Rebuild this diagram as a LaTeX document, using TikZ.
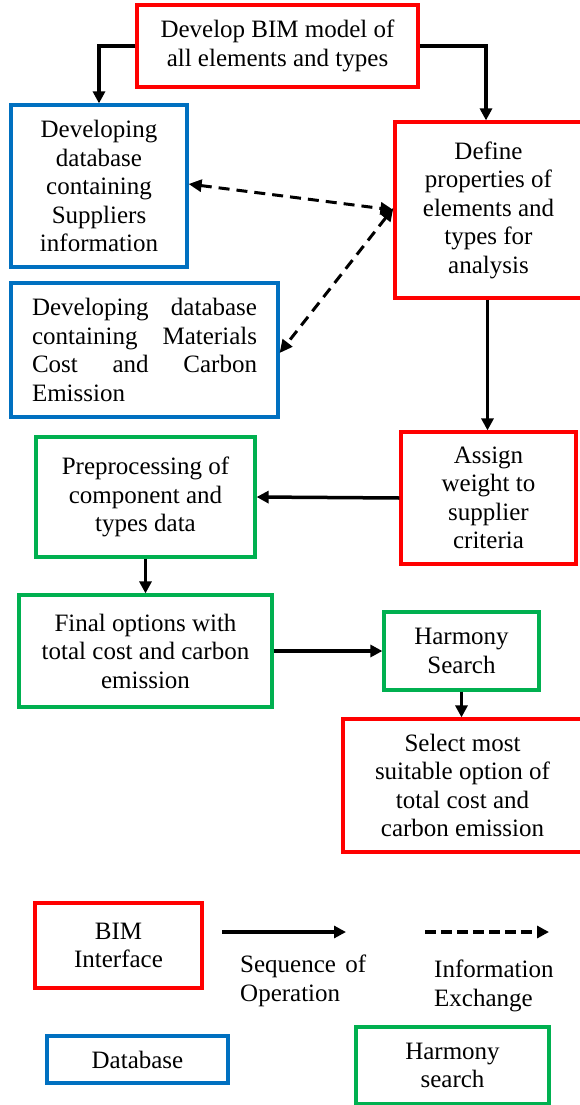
\documentclass[tikz,border=0pt]{standalone}
\usepackage{fontspec}
\setmainfont{Liberation Serif}
\newfontfamily\tnr{Liberation Serif}
\usetikzlibrary{arrows.meta}
\definecolor{bimred}{RGB}{255,0,0}
\definecolor{dbblue}{RGB}{0,112,192}
\definecolor{hsgreen}{RGB}{0,176,80}
\begin{document}
\begin{tikzpicture}[x=1pt,y=-1pt,
  font=\tnr\fontsize{25}{28.5}\selectfont,
  box/.style={draw, line width=3.2pt, align=center, inner sep=0pt, fill=white, text=black},
  bim/.style={box, draw=bimred},
  db/.style={box, draw=dbblue},
  hs/.style={box, draw=hsgreen},
  flow/.style={line width=3.5pt, -{Triangle[length=12pt,width=12pt]}},
  info/.style={line width=3pt, dash pattern=on 11pt off 7pt,
     {Triangle[length=13pt,width=12pt]}-{Triangle[length=13pt,width=12pt]}},
  infoone/.style={line width=3.2pt, dash pattern=on 11pt off 5pt,
     -{Triangle[length=12pt,width=12pt]}},
  lbl/.style={anchor=west, align=left, inner sep=0pt}
]
\useasboundingbox (0,0) rectangle (579,1105);

% main boxes
\node[bim, minimum width=281pt, minimum height=82pt] (b1) at (277.5,46)
  {Develop BIM model of\\all elements and types};
\node[db, minimum width=176pt, minimum height=162pt] (b2) at (99,186)
  {Developing\\database\\containing\\Suppliers\\information};
\node[bim, minimum width=187pt, minimum height=176pt] (b3) at (488.5,210)
  {Define\\properties of\\elements and\\types for\\analysis};
\node[db, minimum width=267pt, minimum height=134pt, align=left] (b4) at (144.5,350)
  {\makebox[225pt][s]{Developing database}\\
   \makebox[225pt][s]{containing Materials}\\
   \makebox[225pt][s]{Cost and Carbon}\\
   Emission};
\node[bim, minimum width=175pt, minimum height=132pt] (b5) at (488.5,498)
  {Assign\\weight to\\supplier\\criteria};
\node[hs, minimum width=219pt, minimum height=120pt] (b6) at (145.5,497)
  {Preprocessing of\\component and\\types data};
\node[hs, minimum width=253pt, minimum height=112pt] (b7) at (145.5,651)
  {Final options with\\total cost and carbon\\emission};
\node[hs, minimum width=155pt, minimum height=78pt] (b8) at (461.5,651)
  {Harmony\\Search};
\node[bim, minimum width=239pt, minimum height=133pt] (b9) at (462.5,785.5)
  {Select most\\suitable option of\\total cost and\\carbon emission};

% flow arrows
\draw[flow] (b1.west) -| (b2.north);
\draw[flow] (b1.east) -| ([xshift=-2.5pt]b3.north);
\draw[flow] ([xshift=-1pt]b3.south) -- ([xshift=-1pt]b5.north);
\draw[flow] (b5.west) -- (b6.east);
\draw[flow] (b6.south) -- (b7.north);
\draw[flow] (b7.east) -- (b8.west);
\draw[flow] (b8.south) -- (b8.south |- b9.north);

% information exchange
\draw[info] ([yshift=2pt]b2.east) -- ([yshift=0pt]b3.west);
\draw[info] ([yshift=2pt]b3.west) -- ([yshift=-3pt]b4.east);

% legend
\node[bim, minimum width=167pt, minimum height=85pt] (l1) at (118.5,945.5)
  {BIM\\Interface};
\node[db, minimum width=181pt, minimum height=47pt] (l2) at (137.5,1059.5)
  {Database};
\node[hs, minimum width=193pt, minimum height=77pt] (l3) at (452.5,1065.5)
  {Harmony\\search};
\coordinate (s1) at (222,932);
\coordinate (s2) at (346,932);
\coordinate (e1) at (425,932);
\coordinate (e2) at (549,932);
\draw[flow] (s1) -- (s2);
\draw[infoone] (e1) -- (e2);
\node[lbl] (t1) at (240,981)
  {\makebox[126pt][s]{Sequence of}\\Operation};
\node[lbl] (t2) at (434,986)
  {Information\\Exchange};
\end{tikzpicture}
\end{document}
